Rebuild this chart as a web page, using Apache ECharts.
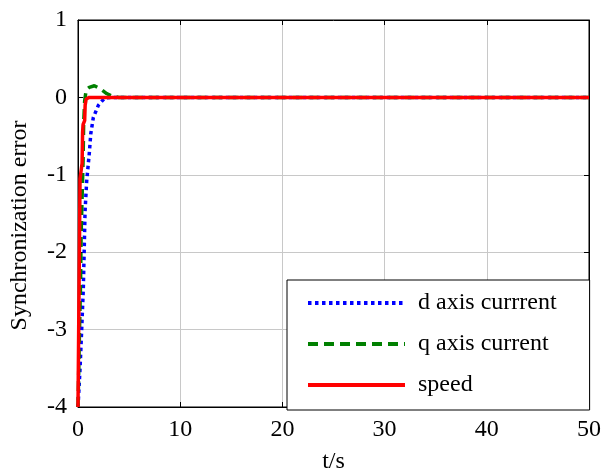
<!DOCTYPE html>
<html>
<head>
<meta charset="utf-8">
<script src="https://cdn.jsdelivr.net/npm/echarts@6/dist/echarts.min.js"></script>
<style>html,body{margin:0;padding:0;background:#fff}#c{width:603px;height:473px}</style>
</head>
<body>
<div id="c"></div>
<script>
var seriesNames = ['d axis currrent', 'q axis current', 'speed'];
var dTime  = [0, 0.2, 0.36, 0.52, 0.62, 0.69, 0.85, 1.1, 1.25, 1.5, 2.0, 2.6, 3.2, 50];
var dValue = [-4, -3.5, -3.0, -2.47, -1.9, -1.47, -1.08, -0.73, -0.47, -0.26, -0.1, -0.01, 0, 0];
var qTime  = [0, 0.15, 0.25, 0.3, 0.4, 0.5, 0.55, 0.65, 0.8, 1.1, 1.6, 2.2, 2.8, 3.4, 4, 50];
var qValue = [-4, -3, -2.4, -1.8, -1.3, -0.8, -0.35, -0.05, 0.1, 0.13, 0.15, 0.11, 0.05, 0.01, 0, 0];
var sTime  = [0, 0.1, 0.2, 0.3, 0.4, 0.45, 0.5, 0.65, 0.7, 0.8, 1.1, 50];
var sValue = [-4, -2.5, -1.05, -0.95, -0.85, -0.45, -0.35, -0.3, -0.1, -0.02, 0, 0];
var xTicks = [0, 10, 20, 30, 40, 50];
var yTicks = [-4, -3, -2, -1, 0, 1];

function pairs(t, v) { return t.map(function (x, i) { return [x, v[i]]; }); }

var FONT = 'Liberation Serif';
var chart = echarts.init(document.getElementById('c'), null, {renderer: 'canvas'});
var axisCommon = {
  type: 'value',
  axisLine: {show: true, onZero: false, lineStyle: {color: '#000', width: 1}},
  axisTick: {show: true, inside: true, length: 5, lineStyle: {color: '#000'}},
  splitLine: {show: false}
};
chart.setOption({
  animation: false,
  backgroundColor: '#fff',
  grid: {left: 78, right: 14, top: 20, bottom: 66, show: true, borderColor: '#000', borderWidth: 1,
         containLabel: false, outerBoundsMode: 'none'},
  xAxis: [
    Object.assign({}, axisCommon, {
      min: xTicks[0], max: xTicks[xTicks.length - 1], interval: 10, position: 'bottom',
      name: 't/s', nameLocation: 'middle', nameGap: 43,
      nameTextStyle: {fontFamily: FONT, fontSize: 24, color: '#000'},
      axisLabel: {fontFamily: FONT, fontSize: 24, color: '#000', margin: 11},
      splitLine: {show: true, lineStyle: {color: '#c8c8c8', width: 1}}
    }),
    Object.assign({}, axisCommon, {
      min: xTicks[0], max: xTicks[xTicks.length - 1], interval: 10, position: 'top',
      axisLabel: {show: false}
    })
  ],
  yAxis: [
    Object.assign({}, axisCommon, {
      min: yTicks[0], max: yTicks[yTicks.length - 1], interval: 1, position: 'left',
      name: 'Synchronization error', nameLocation: 'middle', nameGap: 46, nameRotate: 90,
      nameTextStyle: {fontFamily: FONT, fontSize: 24, color: '#000', padding: [0, 24, 0, 0]},
      axisLabel: {fontFamily: FONT, fontSize: 24, color: '#000', margin: 11},
      splitLine: {show: true, lineStyle: {color: '#c8c8c8', width: 1}}
    }),
    Object.assign({}, axisCommon, {
      min: yTicks[0], max: yTicks[yTicks.length - 1], interval: 1, position: 'right',
      axisLabel: {show: false}
    })
  ],
  legend: {
    show: true,
    orient: 'vertical',
    left: 287, top: 280,
    padding: [11, 33, 13, 19],
    itemWidth: 97, itemHeight: 20, itemGap: 17,
    itemStyle: {opacity: 0},
    lineStyle: {width: 4},
    backgroundColor: '#fff', borderColor: '#000', borderWidth: 1, borderRadius: 0,
    textStyle: {fontFamily: FONT, fontSize: 24, color: '#000', lineHeight: 24, padding: [0, 0, 0, 8]},
    data: seriesNames
  },
  series: [
    {name: seriesNames[0], type: 'line', data: pairs(dTime, dValue), symbol: 'none', z: 2,
     color: '#0000ff', lineStyle: {color: '#0000ff', width: 3.5, type: [3.5, 3.5]}},
    {name: seriesNames[1], type: 'line', data: pairs(qTime, qValue), symbol: 'none', z: 3,
     color: '#008000', lineStyle: {color: '#008000', width: 3.5, type: [10, 6]}},
    {name: seriesNames[2], type: 'line', data: pairs(sTime, sValue), symbol: 'none', z: 4,
     color: '#ff0000', lineStyle: {color: '#ff0000', width: 3.5, type: 'solid'}}
  ]
});
</script>
</body>
</html>
